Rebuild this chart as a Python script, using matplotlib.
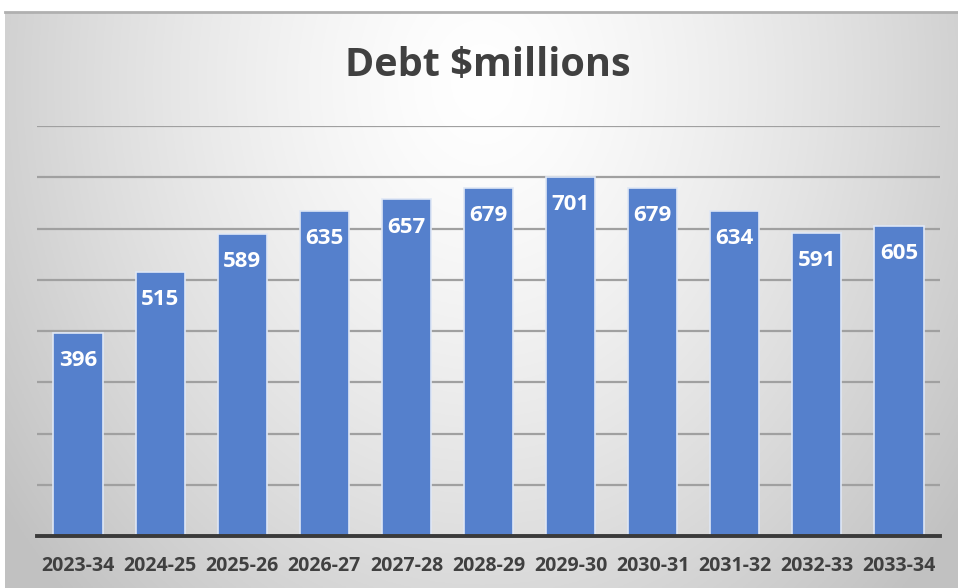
import numpy as np
import matplotlib
matplotlib.use("Agg")
import matplotlib.pyplot as plt

categories = ["2023-34", "2024-25", "2025-26", "2026-27", "2027-28", "2028-29",
              "2029-30", "2030-31", "2031-32", "2032-33", "2033-34"]
values = [396, 515, 589, 635, 657, 679, 701, 679, 634, 591, 605]
title = "Debt $millions"

W, H = 958, 588
fig = plt.figure(figsize=(W / 100, H / 100), dpi=100)
fig.patch.set_facecolor("white")

# background panel with radial gradient
bg = fig.add_axes([5 / W, 0, 953 / W, 576 / H])
bg.set_axis_off()
ny, nx = 300, 500
yy, xx = np.mgrid[0:ny, 0:nx]
cx, cy = nx * 0.5, ny * 0.12
d = np.sqrt(((xx - cx) / (nx * 0.62)) ** 2 + ((yy - cy) / (ny * 1.25)) ** 2)
d = np.clip(d, 0, 1)
shade = 1.0 - 0.24 * d ** 1.4
img = np.dstack([shade, shade, shade])
bg.imshow(img, aspect="auto", extent=[0, 1, 0, 1], origin="upper")
bg.set_xlim(0, 1)
bg.set_ylim(0, 1)
bg.plot([0, 1], [1, 1], color="#b0b0b0", lw=2, transform=bg.transAxes, clip_on=False)

ax = fig.add_axes([37 / W, 1 - 536 / H, (940 - 37) / W, (536 - 126) / H])
ax.patch.set_alpha(0)
x = np.arange(len(categories))
ax.bar(x, values, width=0.6, color="#5580CC", edgecolor="#dfe7f5", linewidth=1.2, zorder=3)
ax.set_xlim(-0.5, len(categories) - 0.5)
ax.set_ylim(0, 800)
ax.set_yticks(np.arange(100, 801, 100))
ax.yaxis.grid(True, color="#a0a0a0", lw=1.6, zorder=0)
ax.tick_params(axis="y", left=False, labelleft=False)
ax.tick_params(axis="x", bottom=False, pad=11)
for s in ["top", "right", "left"]:
    ax.spines[s].set_visible(False)
ax.spines["bottom"].set_color("#3a3a3a")
ax.spines["bottom"].set_linewidth(2.8)
ax.spines["bottom"].set_zorder(4)
ax.set_xticks(x)
ax.set_xticklabels(categories, fontsize=14, fontweight="bold", color="#404040",
                   family="Open Sans")

for xi, v in zip(x, values):
    ax.annotate(str(v), (xi, v), xytext=(0, -20), textcoords="offset points",
                ha="center", va="center", color="white", fontsize=16,
                fontweight="bold", family="Open Sans", zorder=5)

fig.text(488 / W, 1 - 65 / H, title, ha="center", va="center", fontsize=28.5,
         fontweight="bold", color="#404040", family="Open Sans")

fig.savefig("out.png", dpi=100, facecolor="white")
